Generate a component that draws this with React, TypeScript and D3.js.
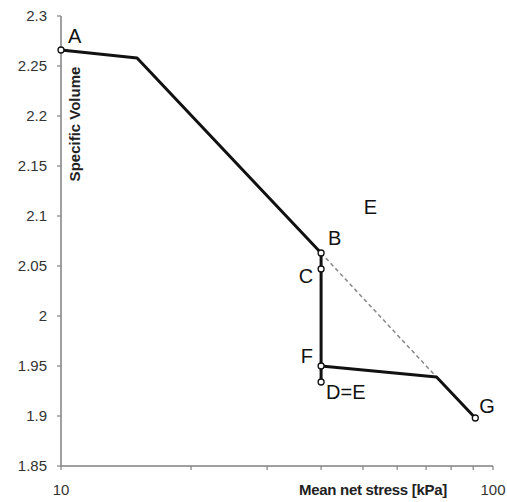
import React from "react";
import * as d3 from "d3";

const W = 507;
const H = 502;

// main loading/unloading path: A -> kink -> B -> C -> F -> D=E
const mainStress = [10, 15, 40, 40, 40, 40];
const mainVolume = [2.266, 2.258, 2.063, 2.047, 1.95, 1.934];
// reloading branch: F -> kink -> G
const branchStress = [40, 74, 91];
const branchVolume = [1.95, 1.939, 1.898];
// dashed reference line: B -> kink
const dashStress = [40, 74];
const dashVolume = [2.063, 1.939];

// marked points
const markerNames = ["A", "B", "C", "F", "D=E", "G"];
const markerStress = [10, 40, 40, 40, 40, 91];
const markerVolume = [2.266, 2.063, 2.047, 1.95, 1.934, 1.898];

// free label E
const freeLabel = "E";
const freeStress = 52;
const freeVolume = 2.102;

const yTicks = [1.85, 1.9, 1.95, 2, 2.05, 2.1, 2.15, 2.2, 2.25, 2.3];
const xMinorTicks = [20, 30, 40, 50, 60, 70, 80, 90];
const xLabelTicks = [10, 100];

const labelOffsets: Record<string, [number, number, string]> = {
  A: [7, -7, "start"],
  B: [7, -8, "start"],
  C: [-8, 14, "end"],
  F: [-8, -3, "end"],
  "D=E": [5, 17, "start"],
  G: [4, -5, "start"],
};

export default function App() {
  const x = d3.scaleLog().domain([10, 100]).range([61, 493]);
  const y = d3.scaleLinear().domain([1.85, 2.3]).range([466, 16]);

  const line = d3
    .line<[number, number]>()
    .x((d) => x(d[0]))
    .y((d) => y(d[1]));

  const mainPts = mainStress.map((s, i) => [s, mainVolume[i]] as [number, number]);
  const branchPts = branchStress.map((s, i) => [s, branchVolume[i]] as [number, number]);
  const dashPts = dashStress.map((s, i) => [s, dashVolume[i]] as [number, number]);

  const font = "Liberation Sans, Arial, sans-serif";
  const axisColor = "#808080";
  const textColor = "#333";

  return (
    <svg
      width={W}
      height={H}
      style={{ position: "absolute", left: 0, top: 0, background: "#fff" }}
      fontFamily={font}
    >
      {/* axes */}
      <line x1={x(10)} x2={x(10)} y1={y(2.3)} y2={y(1.85)} stroke={axisColor} strokeWidth={1.5} />
      <line x1={x(10)} x2={x(100)} y1={y(1.85)} y2={y(1.85)} stroke={axisColor} strokeWidth={1.5} />
      {yTicks.map((t) => (
        <g key={t}>
          <line x1={x(10) - 4} x2={x(10)} y1={y(t)} y2={y(t)} stroke={axisColor} strokeWidth={1.2} />
          <text
            x={47}
            y={y(t)}
            dy="0.35em"
            textAnchor="end"
            fontSize={15}
            fill={textColor}
          >
            {String(t)}
          </text>
        </g>
      ))}
      {xMinorTicks.concat(xLabelTicks).map((t) => (
        <line key={t} x1={x(t)} x2={x(t)} y1={y(1.85)} y2={y(1.85) + 4} stroke={axisColor} strokeWidth={1.2} />
      ))}
      {xLabelTicks.map((t) => (
        <text key={t} x={x(t)} y={495} textAnchor="middle" fontSize={15} fill={textColor}>
          {String(t)}
        </text>
      ))}
      <text x={373} y={495} textAnchor="middle" fontSize={15} fontWeight="bold" fill="#222" letterSpacing={-0.3}>
        Mean net stress [kPa]
      </text>
      <text
        transform={`translate(${80},${124}) rotate(-90)`}
        textAnchor="middle"
        fontSize={15}
        fontWeight="bold"
        fill="#222"
      >
        Specific Volume
      </text>

      {/* dashed reference */}
      <path d={line(dashPts) || ""} fill="none" stroke="#888" strokeWidth={1.5} strokeDasharray="4,3" />
      {/* paths */}
      <path d={line(mainPts) || ""} fill="none" stroke="#111" strokeWidth={3} strokeLinejoin="round" />
      <path d={line(branchPts) || ""} fill="none" stroke="#111" strokeWidth={3} strokeLinejoin="round" />

      {/* markers */}
      {markerNames.map((n, i) => (
        <circle
          key={n}
          cx={x(markerStress[i])}
          cy={y(markerVolume[i])}
          r={3}
          fill="#fff"
          stroke="#111"
          strokeWidth={1.3}
        />
      ))}
      {markerNames.map((n, i) => {
        const [dx, dy, anchor] = labelOffsets[n];
        return (
          <text
            key={"l" + n}
            x={x(markerStress[i]) + dx}
            y={y(markerVolume[i]) + dy}
            textAnchor={anchor as any}
            fontSize={20}
            fill="#111"
          >
            {n}
          </text>
        );
      })}
      <text x={x(freeStress)} y={y(freeVolume)} textAnchor="middle" fontSize={20} fill="#111">
        {freeLabel}
      </text>
    </svg>
  );
}
